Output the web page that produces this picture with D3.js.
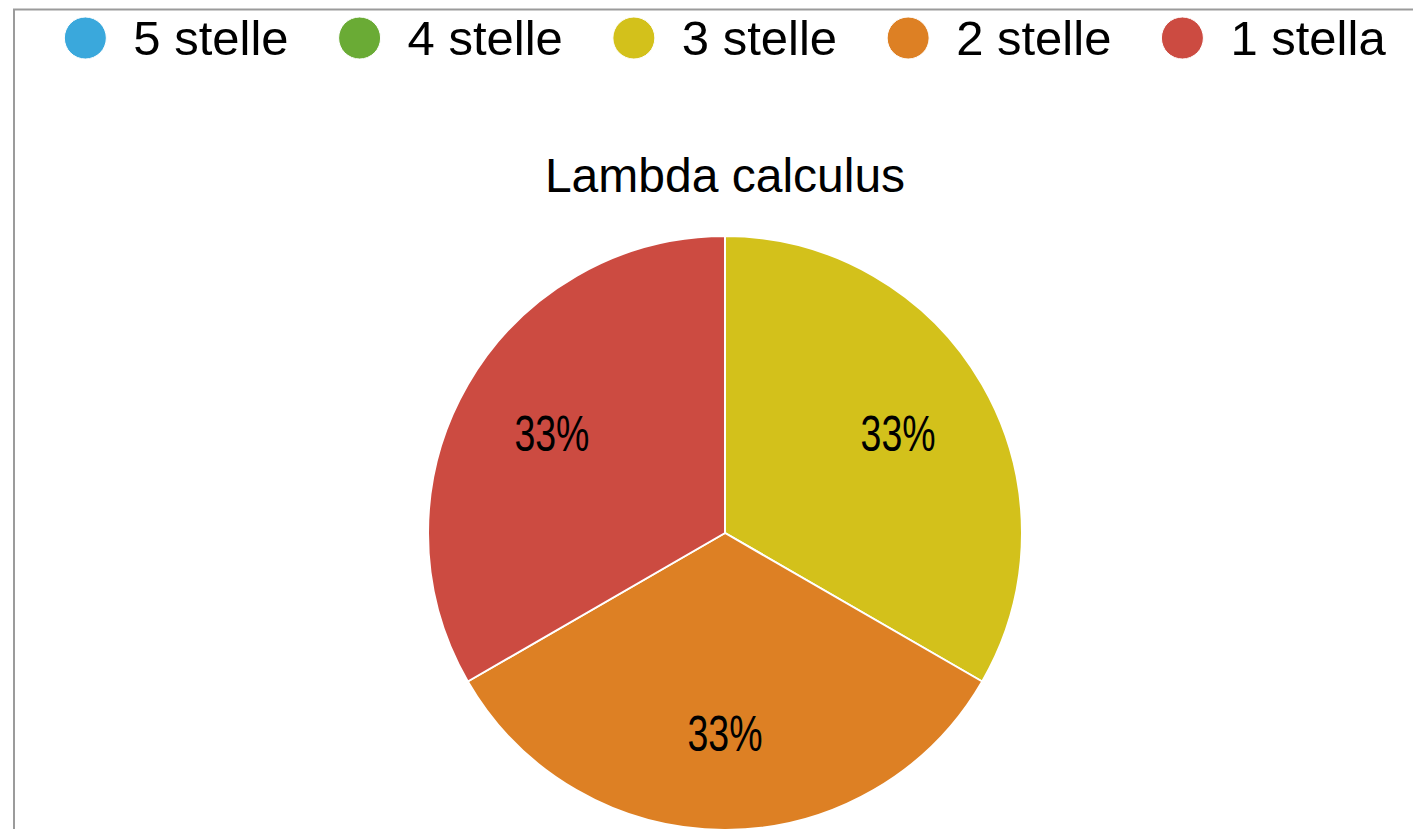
<html>
    <style>
        body {
            margin: 0;
            background: #fff;
        }

        svg {
            display: block;
        }

        .legend text {
            font-family: 'Liberation Sans', Arial, sans-serif;
            font-size: 49px;
            fill: #000;
        }

        .title {
            font-family: 'Liberation Sans', Arial, sans-serif;
            font-size: 48px;
            fill: #000;
        }

        .pct {
            font-family: 'Liberation Sans', Arial, sans-serif;
            font-size: 50px;
            fill: #000;
        }
    </style>

    <body>
        <svg width="1413" height="829"></svg>

        <script src="https://d3js.org/d3.v7.min.js"></script>

        <script>
            // data
            let categories = ["5 stelle", "4 stelle", "3 stelle", "2 stelle", "1 stella"]
            let values = [0, 0, 1, 1, 1]
            let colors = ["#3aa8dc", "#6aab35", "#d3c11b", "#dd8024", "#cc4b41"]
            let chartTitle = "Lambda calculus"

            let width = 1413
            let height = 829

            let svg = d3.select("svg")

            // frame (only top and left visible)
            svg.append("path")
                .attr("d", `M14,${height} L14,9.5 L${width},9.5`)
                .attr("fill", "none")
                .attr("stroke", "#9b9b9b")
                .attr("stroke-width", 2)

            let cx = 725
            let cy = 533
            let radius = 297

            let color = d3.scaleOrdinal()
                .domain(categories)
                .range(colors)

            // legend
            let legend = svg.append("g").attr("class", "legend")

            let items = legend.selectAll("g")
                .data(categories)
                .join("g")

            items.append("circle")
                .attr("r", 21)
                .attr("cy", 38)
                .attr("fill", d => color(d))
                .attr("stroke", "#fff")
                .attr("stroke-width", 1)

            items.append("text")
                .attr("y", 55)
                .text(d => d)

            let dotGap = 27
            let itemGap = 50
            let widths = []
            items.select("text").each(function () { widths.push(this.getComputedTextLength()) })
            let total = d3.sum(widths) + categories.length * (42 + dotGap) + (categories.length - 1) * itemGap
            let xpos = cx - total / 2
            items.each(function (d, i) {
                let g = d3.select(this)
                g.select("circle").attr("cx", xpos + 21)
                g.select("text").attr("x", xpos + 42 + dotGap)
                xpos += 42 + dotGap + widths[i] + itemGap
            })

            // title
            svg.append("text")
                .attr("class", "title")
                .attr("x", cx)
                .attr("y", 192)
                .attr("text-anchor", "middle")
                .text(chartTitle)

            // pie
            let pie = d3.pie()
                .sort(null)
                .value(d => d.value)

            let data = categories.map((c, i) => ({name: c, value: values[i]}))
            let arcs = pie(data).filter(d => d.data.value > 0)

            let arc = d3.arc()
                .innerRadius(0)
                .outerRadius(radius)

            let labelArc = d3.arc()
                .innerRadius(radius * 0.673)
                .outerRadius(radius * 0.673)

            let g = svg.append("g")
                .attr("transform", `translate(${cx},${cy})`)

            g.selectAll("path")
                .data(arcs)
                .join("path")
                .attr("d", arc)
                .attr("fill", d => color(d.data.name))
                .attr("stroke", "#fff")
                .attr("stroke-width", 2)

            // the labels use a condensed face, so squeeze them horizontally
            let total_v = d3.sum(values)
            g.selectAll("text")
                .data(arcs)
                .join("text")
                .attr("class", "pct")
                .attr("transform", d => `translate(${labelArc.centroid(d)}) scale(0.75,1)`)
                .attr("text-anchor", "middle")
                .attr("dy", "0.36em")
                .text(d => Math.round(d.data.value / total_v * 100) + "%")
        </script>
    </body>
</html>
